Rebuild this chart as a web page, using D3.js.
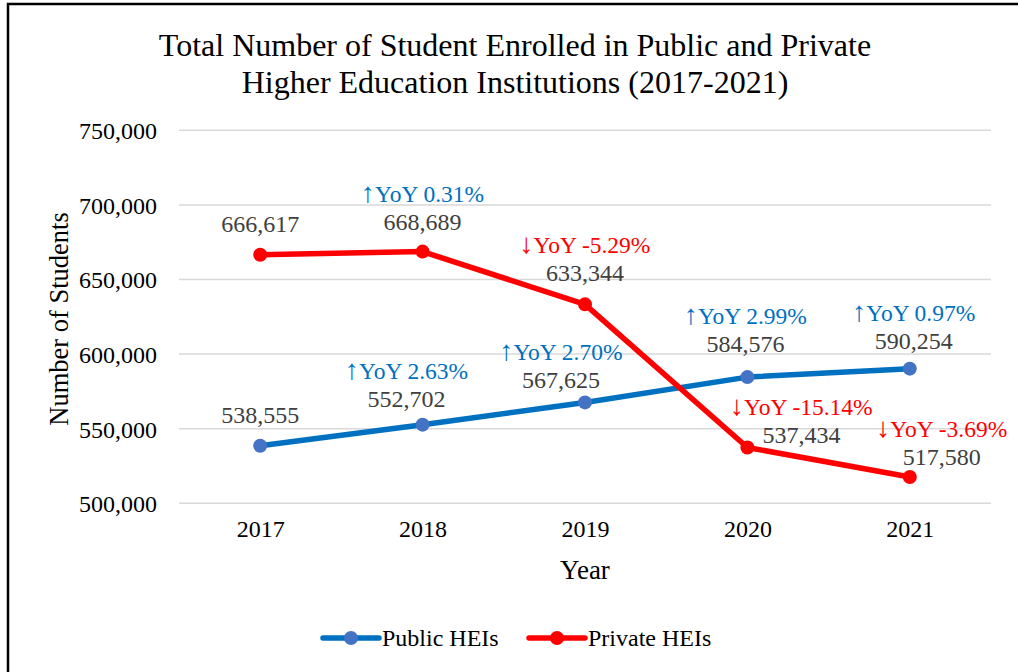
<!DOCTYPE html>
<html>
<head>
<meta charset="utf-8">
<script src="https://cdn.jsdelivr.net/npm/d3@7"></script>
<style>
  body { margin: 0; background: #fff; }
  text { font-family: "Liberation Serif", "Times New Roman", serif; }
</style>
</head>
<body>
<div id="wrapper"></div>
<script>
// data
var years = ["2017", "2018", "2019", "2020", "2021"];
var publicHEIs = [538555, 552702, 567625, 584576, 590254];
var privateHEIs = [666617, 668689, 633344, 537434, 517580];
var publicYoY = [null, "↑YoY 2.63%", "↑YoY 2.70%", "↑YoY 2.99%", "↑YoY 0.97%"];
var privateYoY = [null, "↑YoY 0.31%", "↓YoY -5.29%", "↓YoY -15.14%", "↓YoY -3.69%"];
var yTicks = [500000, 550000, 600000, 650000, 700000, 750000];

// label nudges (layout only): [dx, dy of value label baseline from point]
var publicShift = [[0, -23], [-16, -18], [-24, -14], [-2, -25], [4, -20]];
var privateShift = [[0, -23], [0, -22], [0, -23], [54, -4], [32, -12]];
var yoyGap = 28;

function draw(){
    const parent = d3.select("#wrapper")
    parent.selectAll('*').remove()

    var width = 1018;
    var height = 672;
    var svg = parent.append("svg")
        .attr("width", width)
        .attr("height", height)

    // frame (only top and left edges visible)
    svg.append("rect")
        .attr("x", 8).attr("y", 4)
        .attr("width", 1040).attr("height", 700)
        .attr("fill", "none")
        .attr("stroke", "#000")
        .attr("stroke-width", 2.5)

    var left = 179, right = 991, top = 130.3, bottom = 503.3;

    var x = d3.scalePoint()
        .domain(years)
        .range([left, right])
        .padding(0.5);
    var y = d3.scaleLinear()
        .domain([500000, 750000])
        .range([bottom, top]);

    // gridlines
    svg.append("g")
        .selectAll("line")
        .data(yTicks)
        .join("line")
        .attr("x1", left).attr("x2", right)
        .attr("y1", d => y(d)).attr("y2", d => y(d))
        .attr("stroke", "#d9d9d9")
        .attr("stroke-width", 1.5)

    var yAxis = d3.axisLeft(y)
        .tickValues(yTicks)
        .tickFormat(d3.format(","))
        .tickSize(0)
        .tickPadding(22)
    var gy = svg.append("g")
        .attr("transform", "translate(" + left + ",0)")
        .call(yAxis)
    gy.select(".domain").remove()
    gy.selectAll("text")
        .style("font-family", "Liberation Serif")
        .style("font-size", "24px")
        .attr("fill", "#000")
        .attr("dy", "0.35em")

    var xAxis = d3.axisBottom(x).tickSize(0).tickPadding(17)
    var gx = svg.append("g")
        .attr("transform", "translate(0," + bottom + ")")
        .call(xAxis)
    gx.select(".domain").remove()
    gx.selectAll("text")
        .style("font-family", "Liberation Serif")
        .style("font-size", "24px")
        .attr("fill", "#000")

    // titles
    svg.append("text")
        .attr("x", 515).attr("y", 56)
        .attr("text-anchor", "middle")
        .style("font-size", "32px")
        .text("Total Number of Student Enrolled in Public and Private")
    svg.append("text")
        .attr("x", 515).attr("y", 93)
        .attr("text-anchor", "middle")
        .style("font-size", "32px")
        .text("Higher Education Institutions (2017-2021)")
    svg.append("text")
        .attr("x", 585).attr("y", 579)
        .attr("text-anchor", "middle")
        .style("font-size", "27px")
        .text("Year")
    svg.append("text")
        .attr("transform", "translate(68," + 319 + ") rotate(-90)")
        .attr("text-anchor", "middle")
        .style("font-size", "26.5px")
        .text("Number of Students")

    var line = d3.line()
        .x((d, i) => x(years[i]))
        .y(d => y(d))

    var series = [
        {name: "Public HEIs", values: publicHEIs, yoy: publicYoY, shift: publicShift,
         lineColor: "#0070c0", markColor: "#4472c4"},
        {name: "Private HEIs", values: privateHEIs, yoy: privateYoY, shift: privateShift,
         lineColor: "#ff0000", markColor: "#ff0000"}
    ]

    series.forEach(function(s){
        svg.append("path")
            .datum(s.values)
            .attr("d", line)
            .attr("fill", "none")
            .attr("stroke", s.lineColor)
            .attr("stroke-width", 5.5)
            .attr("stroke-linejoin", "round")
        svg.append("g")
            .selectAll("circle")
            .data(s.values)
            .join("circle")
            .attr("cx", (d, i) => x(years[i]))
            .attr("cy", d => y(d))
            .attr("r", 7)
            .attr("fill", s.markColor)
    })

    series.forEach(function(s){
        var g = svg.append("g")
        g.selectAll("text.val")
            .data(s.values)
            .join("text")
            .attr("class", "val")
            .attr("x", (d, i) => x(years[i]) + s.shift[i][0])
            .attr("y", (d, i) => y(d) + s.shift[i][1])
            .attr("text-anchor", "middle")
            .attr("fill", "#404040")
            .style("font-size", "24px")
            .text(d => d3.format(",")(d))
        var yoy = g.selectAll("text.yoy")
            .data(s.values.map((d, i) => ({v: d, i: i, t: s.yoy[i]})).filter(d => d.t))
            .join("text")
            .attr("class", "yoy")
            .attr("x", d => x(years[d.i]) + s.shift[d.i][0])
            .attr("y", d => y(d.v) + s.shift[d.i][1] - yoyGap)
            .attr("text-anchor", "middle")
            .attr("fill", d => d.t[0] === "↑" ? "#0070c0" : "#ff0000")
            .style("font-size", "23.5px")
        yoy.append("tspan")
            .style("font-size", "28px")
            .text(d => d.t[0])
        yoy.append("tspan")
            .text(d => d.t.slice(1))
    })

    // legend
    var leg = svg.append("g").attr("transform", "translate(323,638)")
    var legX = [0, 206]
    series.forEach(function(s, i){
        var item = leg.append("g").attr("transform", "translate(" + legX[i] + ",0)")
        item.append("line")
            .attr("x1", 0).attr("x2", 56)
            .attr("stroke", s.lineColor)
            .attr("stroke-width", 5.5)
            .attr("stroke-linecap", "round")
        item.append("circle")
            .attr("cx", 28).attr("r", 7)
            .attr("fill", s.markColor)
        item.append("text")
            .attr("x", 59).attr("y", 8)
            .style("font-size", "24px")
            .text(s.name)
    })
}
draw()
</script>
</body>
</html>
